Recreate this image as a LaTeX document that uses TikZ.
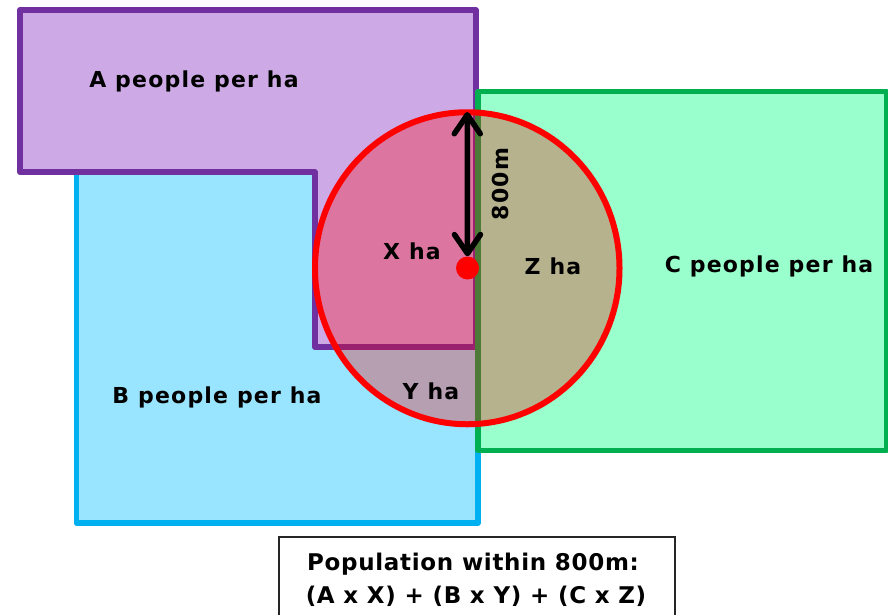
\documentclass[tikz,border=0pt]{standalone}
\usepackage{fontspec}
\setmainfont{DejaVu Sans}
\newfontfamily\lblfont[LetterSpace=5.5]{DejaVu Sans}
\newfontfamily\boxfont[LetterSpace=3]{DejaVu Sans}
\usetikzlibrary{arrows.meta}
\definecolor{pfill}{HTML}{CDAAE6}
\definecolor{pline}{HTML}{7030A0}
\definecolor{bfill}{HTML}{99E4FF}
\definecolor{bline}{HTML}{00B0F0}
\definecolor{gfill}{HTML}{99FFCC}
\definecolor{gline}{HTML}{00B050}
\tikzset{
  region/.style={line width=5.8pt, line join=round},
  lbl/.style={font=\lblfont\bfseries\fontsize{22pt}{26pt}\selectfont, inner sep=0pt, anchor=base},
  boxtxt/.style={font=\boxfont\bfseries\fontsize{23pt}{27pt}\selectfont, inner sep=0pt, anchor=base},
  dim/.style={line width=5.5pt, line cap=round,
    {Straight Barb[length=19pt,width=26pt,line cap=round,line join=round]}-{Straight Barb[length=19pt,width=26pt,line cap=round,line join=round]}}
}
\begin{document}
\begin{tikzpicture}[x=1pt,y=-1pt]
\clip (0,0) rectangle (888,614);
\fill[white] (0,0) rectangle (888,614);
% B region
\draw[region, draw=bline, fill=bfill] (76.5,172) rectangle (478,523);
% A region
\draw[region, draw=pline, fill=pfill] (20,10) -- (476,10) -- (476,347) -- (314.7,347) -- (314.7,172) -- (20,172) -- cycle;
% C region
\draw[region, draw=gline, fill=gfill] (478,91.5) rectangle (886.5,450.5);
% catchment
\fill[red, fill opacity=0.3] (467.25,268.25) ellipse [x radius=152.25, y radius=156];
\draw[red, line width=6pt] (467.25,268.25) ellipse [x radius=152.25, y radius=156];
\coordinate (top) at (467.25,112);
\node[circle, fill=red, minimum size=23pt, inner sep=0pt] (ctr) at (467.5,268) {};
\draw[dim] (ctr.north) -- (top);
\node[lbl, rotate=90, anchor=center] (dist) at (500.5,184) {800m};
% labels
\node[lbl] (la) at (194,87) {A people per ha};
\node[lbl] (lb) at (217,403) {B people per ha};
\node[lbl] (lc) at (769,272) {C people per ha};
\node[lbl] (lx) at (412,259.5) {X ha};
\node[lbl] (ly) at (431,399.3) {Y ha};
\node[lbl] (lz) at (553,274.5) {Z ha};
% formula box
\draw[line width=1.3pt, draw=black!85] (279,537) rectangle (675,640);
\node[boxtxt] (f1) at (473,570) {Population within 800m:};
\node[boxtxt] (f2) at (476,603) {(A x X) + (B x Y) + (C x Z)};
\end{tikzpicture}
\end{document}
